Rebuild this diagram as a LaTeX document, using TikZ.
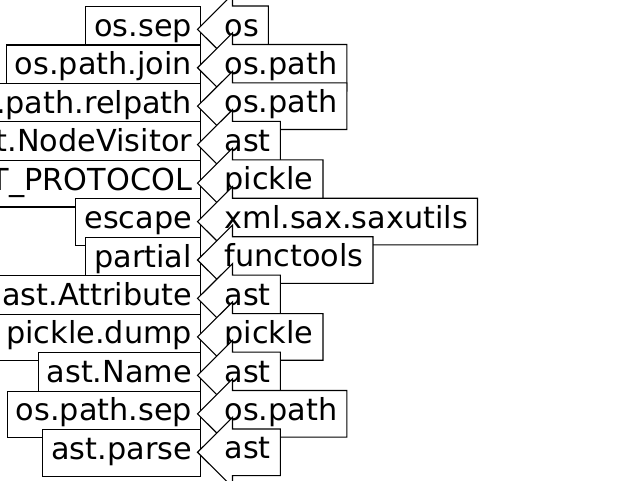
\documentclass[tikz,border=0pt]{standalone}
\usepackage{fontspec}
\setmainfont{DejaVu Sans}

\begin{document}
\begin{tikzpicture}%
        [x=1pt, y=-1pt,
        line width=1.1pt,
        font=\fontsize{30.3pt}{36pt}\selectfont,
        funcbox/.style={draw=black,fill=white,anchor=north east,inner xsep=8.5pt,minimum height=46.6pt,text height=21.5pt,text depth=8.5pt},
        modshape/.style={draw=black,fill=white},
        modlabel/.style={anchor=base west,inner sep=0pt}]
    %
    %% Canvas of 640 x 480
    \useasboundingbox (0,0) rectangle (640,480);
    \clip (0,0) rectangle (640,480);
    \fill[white] (0,0) rectangle (640,480);
    %%
    %% Drawing the rows: imported name on the left, module on the right
    %%
    \foreach \func/\pkg [count=\i from 0] in {os.sep/os, os.path.join/os.path,
            os.path.relpath/os.path, ast.NodeVisitor/ast,
            pickle.HIGHEST\_PROTOCOL/pickle, escape/xml.sax.saxutils,
            partial/functools, ast.Attribute/ast, pickle.dump/pickle,
            ast.Name/ast, os.path.sep/os.path, ast.parse/ast}
    {
        \pgfmathsetmacro\y{6+38.45*\i}
        \node[funcbox] (f\i) at (201,\y) {\func};
        \draw[modshape] (224,\y+30) node[modlabel] (m\i) {\pkg}
            ([xshift=9pt,yshift=30pt]m\i.base east) -- (232.5,\y) -- (232.5,\y-11.6)
            -- (197.5,\y+23.3) -- (232.5,\y+58.2) -- (232.5,\y+46.6)
            -- ([xshift=9pt,yshift=-16.6pt]m\i.base east) -- cycle;
    }
    %%
\end{tikzpicture}
\end{document}
